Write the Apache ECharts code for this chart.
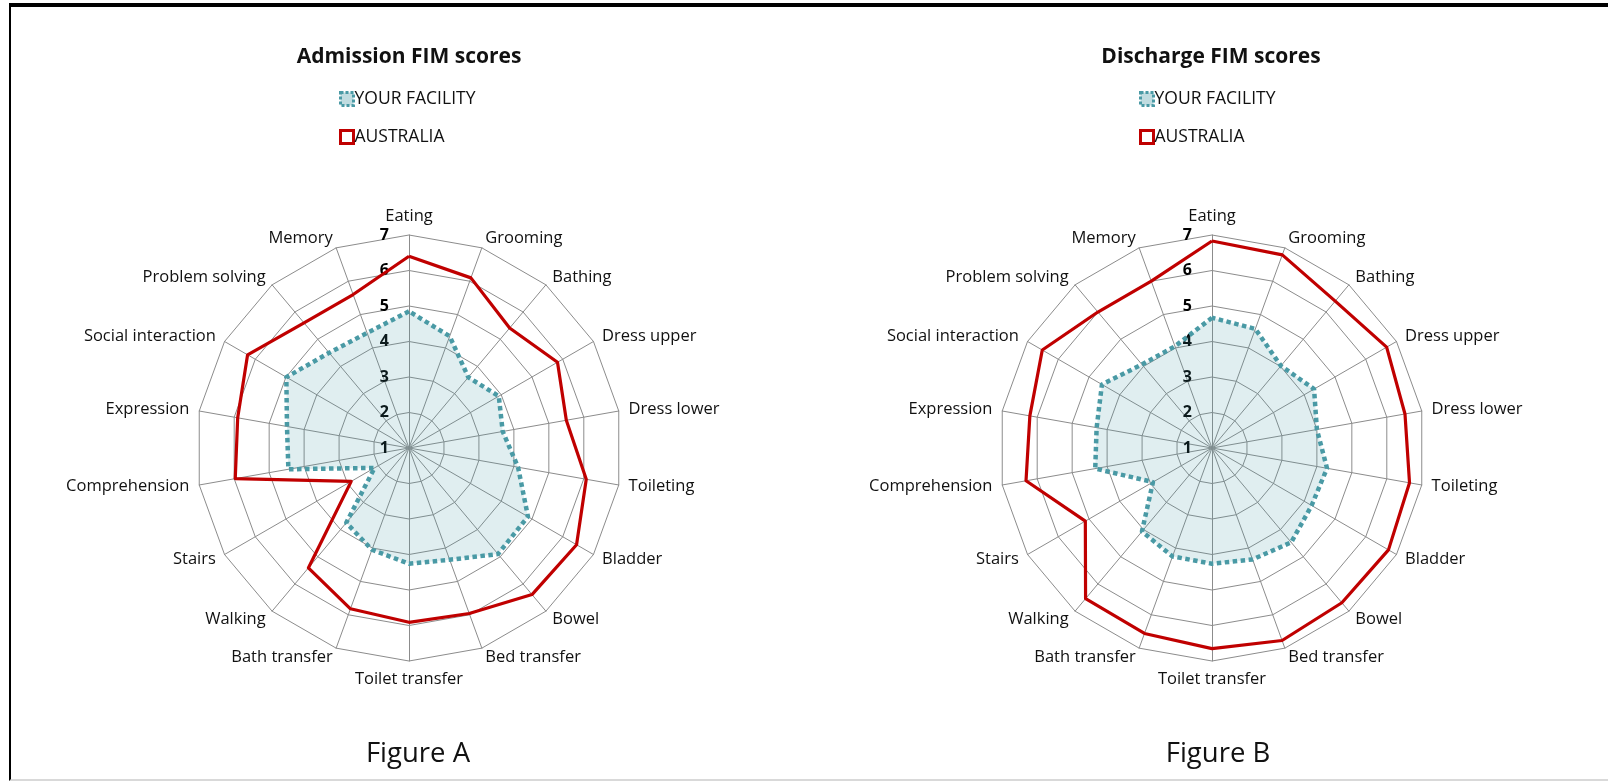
<!DOCTYPE html>
<html>
<head>
<meta charset="utf-8">
<script src="https://cdn.jsdelivr.net/npm/echarts@6/dist/echarts.min.js"></script>
<style>
html,body{margin:0;padding:0;background:#fff;}
#chart{width:1608px;height:781px;position:absolute;left:0;top:0;}
#frame{position:absolute;left:9px;top:3px;width:1640px;height:772px;border-top:4px solid #000;border-left:2px solid #000;border-bottom:2px solid #d9d9d9;pointer-events:none;}
</style>
</head>
<body>
<div id="chart"></div>
<div id="frame"></div>
<script>
// ---- data ----
const categories = ['Eating','Grooming','Bathing','Dress upper','Dress lower','Toileting','Bladder','Bowel','Bed transfer','Toilet transfer','Bath transfer','Walking','Stairs','Comprehension','Expression','Social interaction','Problem solving','Memory'];
const seriesNames = ['YOUR FACILITY','AUSTRALIA'];
const admissionFacility = [4.85,4.35,3.6,3.92,3.68,4.12,4.87,4.9,4.35,4.26,4.05,3.75,2.12,4.45,4.49,4.99,4.5,4.45];
const admissionAustralia = [6.4,6.1,5.41,5.83,5.5,6.07,6.45,6.39,5.96,5.91,5.82,5.41,2.88,5.97,5.9,6.25,5.6,5.6];
const dischargeFacility = [4.67,4.57,4.02,4.32,4.0,4.29,4.24,4.47,4.34,4.26,4.25,4.07,2.92,4.34,4.3,4.58,4.07,4.05];
const dischargeAustralia = [6.83,6.79,6.4,6.68,6.52,6.65,6.74,6.69,6.77,6.65,6.56,6.54,5.12,6.32,6.21,6.52,6.0,6.0];
const chartTitles = ['Admission FIM scores','Discharge FIM scores'];
const figureLabels = ['Figure A','Figure B'];
const scaleMin = 1, scaleMax = 7;

// ---- build ----
const FONT = 'Open Sans';
// ECharts lays indicators counter-clockwise; reverse to get clockwise order
const order = [0];
for (let i = categories.length - 1; i >= 1; i--) order.push(i);
const reorder = arr => order.map(i => arr[i]);

function makeIndicators() {
  return order.map((i, k) => {
    const ind = { name: categories[i], min: scaleMin, max: scaleMax };
    if (k === 0) {
      ind.axisLabel = { show: true, showMinLabel: true, color: '#000', fontWeight: 'bold', fontSize: 16, fontFamily: FONT, margin: 20 };
    }
    return ind;
  });
}

const centers = [[409, 448], [1212, 448]];
const radius = 213;

function makeRadar(c) {
  return {
    center: c,
    radius: radius,
    startAngle: 90,
    shape: 'polygon',
    splitNumber: scaleMax - scaleMin,
    indicator: makeIndicators(),
    axisName: { color: '#111', fontSize: 16.5, fontFamily: FONT },
    nameGap: 10,
    axisLine: { lineStyle: { color: '#8c8c8c', width: 1 } },
    splitLine: { lineStyle: { color: '#8c8c8c', width: 1 } },
    splitArea: { show: false },
    axisTick: { show: false },
    axisLabel: { show: false }
  };
}

const tealStyle = {
  symbol: 'none',
  itemStyle: { color: '#4A9AA5' },
  lineStyle: { color: '#4A9AA5', width: 4.5, type: [4.5, 3.5], cap: 'butt' },
  areaStyle: { color: 'rgba(74,154,165,0.24)' }
};
const redStyle = {
  symbol: 'none',
  itemStyle: { color: '#C00000' },
  lineStyle: { color: '#C00000', width: 3.2 }
};

function makeSeries(radarIndex, fac, aus) {
  return [
    Object.assign({ type: 'radar', radarIndex: radarIndex, name: seriesNames[0], data: [{ value: reorder(fac), name: seriesNames[0] }] }, tealStyle),
    Object.assign({ type: 'radar', radarIndex: radarIndex, name: seriesNames[1], data: [{ value: reorder(aus), name: seriesNames[1] }] }, redStyle)
  ];
}

function makeLegend(left) {
  return {
    orient: 'vertical',
    left: left,
    top: 85,
    itemGap: 20,
    itemWidth: 13,
    itemHeight: 13,
    textStyle: { color: '#111', fontSize: 17.5, fontFamily: FONT, padding: [0, 0, 0, -4] },
    data: [
      { name: seriesNames[0], icon: 'rect', itemStyle: { color: 'rgba(74,154,165,0.35)', borderColor: '#4A9AA5', borderWidth: 3, borderType: [3, 2] } },
      { name: seriesNames[1], icon: 'rect', itemStyle: { color: '#fff', borderColor: '#C00000', borderWidth: 3 } }
    ]
  };
}

const option = {
  animation: false,
  backgroundColor: '#fff',
  title: [
    { text: chartTitles[0], left: 404, top: 42, textAlign: 'center', textStyle: { fontFamily: FONT, fontWeight: 'bold', fontSize: 21, color: '#111' } },
    { text: chartTitles[1], left: 1206, top: 42, textAlign: 'center', textStyle: { fontFamily: FONT, fontWeight: 'bold', fontSize: 21, color: '#111' } },
    { text: figureLabels[0], left: 413, top: 735, textAlign: 'center', textStyle: { fontFamily: FONT, fontWeight: 'normal', fontSize: 27.5, color: '#111' } },
    { text: figureLabels[1], left: 1213, top: 735, textAlign: 'center', textStyle: { fontFamily: FONT, fontWeight: 'normal', fontSize: 27.5, color: '#111' } }
  ],
  legend: [makeLegend(334), makeLegend(1134)],
  radar: [makeRadar(centers[0]), makeRadar(centers[1])],
  series: makeSeries(0, admissionFacility, admissionAustralia).concat(makeSeries(1, dischargeFacility, dischargeAustralia))
};

const chart = echarts.init(document.getElementById('chart'), null, { renderer: 'canvas' });
chart.setOption(option);
</script>
</body>
</html>
